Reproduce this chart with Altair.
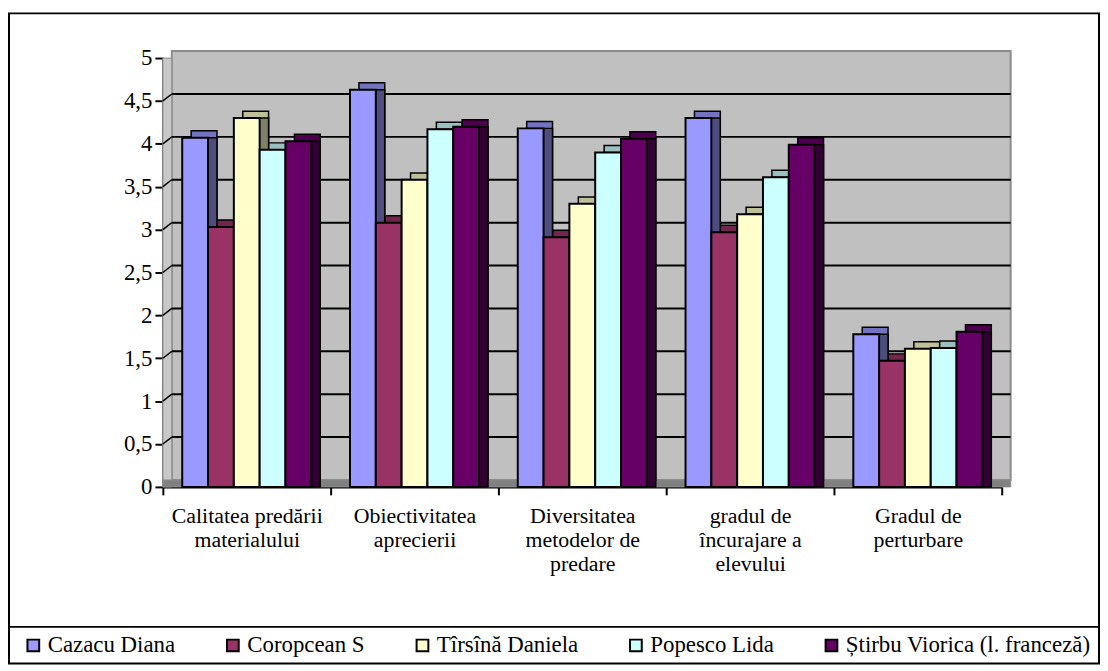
import altair as alt
import pandas as pd

# ---------------- data ----------------
categories = [
    "Calitatea predării\nmaterialului",
    "Obiectivitatea\naprecierii",
    "Diversitatea\nmetodelor de\npredare",
    "gradul de\nîncurajare a\nelevului",
    "Gradul de\nperturbare",
]
series = [
    "Cazacu Diana",
    "Coropcean S",
    "Tîrsînă Daniela",
    "Popesco Lida",
    "Știrbu Viorica (l. franceză)",
]
cazacu = [4.07, 4.63, 4.18, 4.30, 1.78]
coropcean = [3.03, 3.08, 2.91, 2.97, 1.47]
tirsina = [4.30, 3.58, 3.30, 3.18, 1.61]
popesco = [3.93, 4.17, 3.90, 3.61, 1.62]
stirbu = [4.03, 4.20, 4.06, 3.99, 1.81]
grid_values = [0.5, 1.0, 1.5, 2.0, 2.5, 3.0, 3.5, 4.0, 4.5]
y_ticks = [0, 0.5, 1, 1.5, 2, 2.5, 3, 3.5, 4, 4.5, 5]

front_colors = ["#9999FF", "#993366", "#FFFFCC", "#CCFFFF", "#660066"]
top_colors = ["#7373BF", "#73264D", "#BFBF99", "#99BFBF", "#4D004D"]
side_colors = ["#4D4D80", "#4D1A33", "#808066", "#668080", "#330033"]

all_values = [cazacu, coropcean, tirsina, popesco, stirbu]
rows = []
for s, vals in zip(series, all_values):
    for c, v in zip(categories, vals):
        rows.append({"cat": c, "series": s, "value": v})
df = pd.DataFrame(rows)
grid_df = pd.DataFrame({"value": grid_values})

FONT = "Liberation Serif"
W, H = 845, 432
DX, DY = 9, 7

x_enc = alt.X(
    "cat:N",
    sort=categories,
    scale=alt.Scale(domain=categories, paddingInner=0, paddingOuter=0),
    axis=alt.Axis(
        title=None,
        labelAngle=0,
        labelAlign="center",
        labelBaseline="top",
        labelExpr="split(datum.label, '\\n')",
        labelFont=FONT,
        labelFontSize=22,
        labelLineHeight=24,
        labelColor="black",
        labelPadding=11,
        labelLimit=0,
        tickBand="extent",
        tickSize=8,
        tickWidth=2,
        tickColor="black",
        domainColor="black",
        domainWidth=2,
        grid=False,
    ),
)
y_enc = alt.Y(
    "value:Q",
    scale=alt.Scale(domain=[0, 5], nice=False, zero=True),
    axis=alt.Axis(
        title=None,
        values=y_ticks,
        labelExpr="replace(toString(datum.value), '.', ',')",
        labelFont=FONT,
        labelFontSize=23,
        labelColor="black",
        labelPadding=3,
        tickSize=8,
        tickWidth=2,
        tickColor="black",
        domainColor="black",
        domainWidth=2,
        grid=False,
    ),
)

one = alt.Data(values=[{}])

# back wall, side wall, floor
wall = alt.Chart(one).mark_rect(fill="#C0C0C0", stroke="#8C8C8C", strokeWidth=2).encode(
    x=alt.value(DX), x2=alt.value(W + DX), y=alt.value(-DY), y2=alt.value(H - DY)
)
side_wall = alt.Chart(one).mark_rect(fill="#C8C8C8", stroke="#8C8C8C", strokeWidth=1).encode(
    x=alt.value(0), x2=alt.value(DX), y=alt.value(0), y2=alt.value(H)
)
floor = alt.Chart(one).mark_rect(fill="#808080", stroke="#8C8C8C", strokeWidth=1).encode(
    x=alt.value(0), x2=alt.value(W + DX), y=alt.value(H - DY), y2=alt.value(H)
)

grid = alt.Chart(grid_df).mark_rule(color="black", strokeWidth=2, yOffset=-DY).encode(
    x=alt.value(DX), x2=alt.value(W + DX), y=y_enc
)
grid_diag = alt.Chart(grid_df).mark_rule(color="black", strokeWidth=1.5, y2Offset=-DY).encode(
    x=alt.value(0), x2=alt.value(DX), y=y_enc, y2=alt.Y2("value:Q")
)

back_off = alt.XOffset(
    "series:N",
    sort=series,
    scale=alt.Scale(domain=series, range=[DX, 169 + DX], paddingInner=0, paddingOuter=0.75),
)
front_off = alt.XOffset(
    "series:N",
    sort=series,
    scale=alt.Scale(domain=series, paddingInner=0, paddingOuter=0.75),
)

top_faces = alt.Chart(df).mark_bar(stroke="black", strokeWidth=1.5, yOffset=-DY).encode(
    x=x_enc,
    y=y_enc,
    xOffset=back_off,
    color=alt.Color("series:N", sort=series,
                    scale=alt.Scale(domain=series, range=top_colors), legend=None),
)
side_faces = alt.Chart(df).mark_bar(stroke="black", strokeWidth=1.5).encode(
    x=x_enc,
    y=y_enc,
    xOffset=back_off,
    color=alt.Color("series:N", sort=series,
                    scale=alt.Scale(domain=series, range=side_colors), legend=None),
)
front = alt.Chart(df).mark_bar(stroke="black", strokeWidth=2).encode(
    x=x_enc,
    y=y_enc,
    xOffset=front_off,
    color=alt.Color(
        "series:N",
        sort=series,
        scale=alt.Scale(domain=series, range=front_colors),
        legend=alt.Legend(
            title=None,
            orient="none",
            legendX=-142,
            legendY=580,
            direction="horizontal",
            columns=5,
            columnPadding=46,
            symbolType="square",
            symbolSize=140,
            symbolStrokeColor="black",
            symbolStrokeWidth=2,
            labelFont=FONT,
            labelFontSize=23,
            labelColor="black",
            labelOffset=3,
            labelLimit=0,
        ),
    ),
)

frame = alt.Chart(one).mark_rect(fill=None, stroke="black", strokeWidth=2).encode(
    x=alt.value(-155), x2=alt.value(943), y=alt.value(-45), y2=alt.value(610)
)
legend_line = alt.Chart(one).mark_rule(color="black", strokeWidth=2).encode(
    x=alt.value(-155), x2=alt.value(943), y=alt.value(573)
)

chart = (
    alt.layer(wall, side_wall, floor, grid, grid_diag, top_faces, side_faces, front,
              frame, legend_line)
    .resolve_scale(xOffset="independent", color="independent")
    .properties(width=W, height=H, padding={"left": 0, "top": 2, "right": 0, "bottom": 0},
                background="white")
    .configure_view(stroke=None)
    .configure(font=FONT)
    .configure_axis(labelFont=FONT, labelColor="black")
    .configure_legend(labelFont=FONT, labelColor="black")
)

chart.save("out.html", embed_options={"renderer": "svg", "actions": False})
